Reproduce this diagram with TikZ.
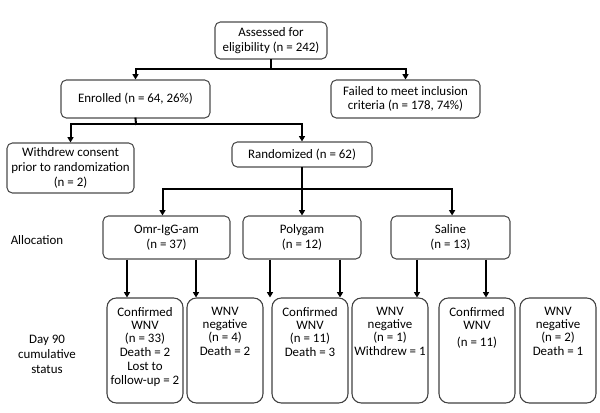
\documentclass[tikz,border=0pt]{standalone}
\usepackage{fontspec}
\setmainfont{Carlito}
\usetikzlibrary{arrows.meta}
\tikzset{
  box/.style n args={2}{draw=black!70, line width=0.8pt, rounded corners=4pt,
    minimum width=#1*0.75pt, minimum height=#2*0.75pt, inner sep=0pt,
    align=center, font=\fontsize{9.7}{11}\selectfont},
  bbox/.style={draw=black!75, line width=0.8pt, rounded corners=7pt,
    minimum width=76*0.75pt, minimum height=105*0.75pt, inner sep=0pt},
  btext/.style={anchor=north, inner sep=0pt, align=center, font=\fontsize{9.7}{9.8}\selectfont},
  lbl/.style={align=center, inner sep=0pt, font=\fontsize{9.7}{11}\selectfont},
  conn/.style={line width=1.5pt, line cap=rect},
  arr/.style={line width=1.5pt, -{Triangle[width=4.5pt,length=4pt]}}
}
\begin{document}
\begin{tikzpicture}[x=0.75pt,y=-0.75pt]
\useasboundingbox (0,0) rectangle (600,413);
% top level
\node[box={112}{37}] (ass) at (271,40.5) {Assessed for\\eligibility (n = 242)};
\node[box={149}{38}] (enr) at (135.5,99) {Enrolled (n = 64, 26\%)};
\node[box={149}{38}] (fail) at (405.5,99) {Failed to meet inclusion\\criteria (n = 178, 74\%)};
\node[box={127}{50}] (wd) at (70.5,168) {Withdrew consent\\prior to randomization\\(n = 2)};
\node[box={140}{25}] (rnd) at (302,154.5) {Randomized (n = 62)};
\node[box={127}{43}] (omr) at (166.5,237.5) {Omr-IgG-am\\(n = 37)};
\node[box={118}{43}] (poly) at (302,237.5) {Polygam\\(n = 12)};
\node[box={119}{43}] (sal) at (450.5,237.5) {Saline\\(n = 13)};
% side labels
\node[lbl] (alloc) at (37,240) {Allocation};
\node[lbl] (day) at (47,354.5) {Day 90\\cumulative\\status};
% bottom boxes
\node[bbox] (b1) at (145,350.5) {};
\node[bbox] (b2) at (225,350.5) {};
\node[bbox] (b3) at (310,350.5) {};
\node[bbox] (b4) at (390,350.5) {};
\node[bbox] (b5) at (477,350.5) {};
\node[bbox] (b6) at (558,350.5) {};
\node[btext] (t1) at ([yshift=-7pt]b1.north) {Confirmed\\WNV\\(n = 33)\\[1pt]Death = 2\\[1pt]Lost to\\follow-up = 2};
\node[btext] (t2) at ([yshift=-7pt]b2.north) {WNV\\negative\\(n = 4)\\[1pt]Death = 2};
\node[btext] (t3) at ([yshift=-7pt]b3.north) {Confirmed\\WNV\\(n = 11)\\[1pt]Death = 3};
\node[btext] (t4) at ([yshift=-7pt]b4.north) {WNV\\negative\\(n = 1)\\[1pt]Withdrew = 1};
\node[btext] (t5) at ([yshift=-7pt]b5.north) {Confirmed\\WNV\\[3pt](n = 11)};
\node[btext] (t6) at ([yshift=-7pt]b6.north) {WNV\\negative\\(n = 2)\\[1pt]Death = 1};
% connectors
\coordinate (j1) at (271,69);
\draw[conn] (ass.south) -- (j1);
\draw[arr] (j1) -| (enr.north);
\draw[arr] (j1) -| (fail.north);
\coordinate (j2) at (136,124);
\draw[conn] (enr.south) -- (j2);
\draw[arr] (j2) -| (wd.north);
\draw[arr] (j2) -| (rnd.north);
\coordinate (j3) at (302,189);
\draw[conn] (rnd.south) -- (j3);
\draw[arr] (j3) -| ([xshift=-3pt]omr.north);
\draw[arr] (j3) -- (poly.north);
\draw[arr] (j3) -| ([xshift=1.2pt]sal.north);
% bottom arrows
\draw[arr] (omr.south -| 127,0) -- (b1.north -| 127,0);
\draw[arr] (omr.south -| 196,0) -- (b2.north -| 196,0);
\draw[arr] (poly.south -| 270,0) -- (b3.north -| 270,0);
\draw[arr] (poly.south -| 340,0) -- (b4.north -| 340,0);
\draw[arr] (sal.south -| 417,0) -- (b5.north -| 417,0);
\draw[arr] (sal.south -| 486,0) -- (b6.north -| 486,0);
\end{tikzpicture}
\end{document}
